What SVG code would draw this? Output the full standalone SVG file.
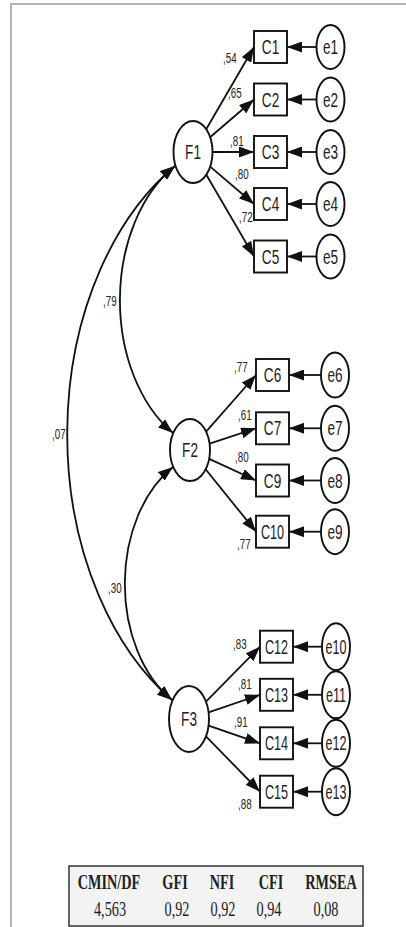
<svg xmlns="http://www.w3.org/2000/svg" width="406" height="927" viewBox="0 0 406 927">
<defs>
<marker id="ah" viewBox="0 0 15 11" refX="15" refY="5.5" markerWidth="15" markerHeight="11" markerUnits="userSpaceOnUse" orient="auto-start-reverse"><path d="M0,0 L15,5.5 L0,11 z" fill="#111"/></marker>
<style>
.n{fill:#fff;stroke:#111;stroke-width:1.9}
.t{font-family:"Liberation Sans",Arial,sans-serif;font-size:20px;fill:#222;text-anchor:middle}
.l{font-family:"Liberation Sans",Arial,sans-serif;font-size:14px;fill:#222}
.c{fill:none;stroke:#111;stroke-width:1.8;marker-end:url(#ah)}
.cv{fill:none;stroke:#111;stroke-width:1.8;marker-start:url(#ah);marker-end:url(#ah)}
.h{font-family:"Liberation Serif","Times New Roman",serif;font-size:21px;font-weight:bold;fill:#222;text-anchor:middle}
.v{font-family:"Liberation Serif","Times New Roman",serif;font-size:21px;fill:#222;text-anchor:middle}
</style>
</defs>
<rect width="406" height="927" fill="#fff"/>
<path d="M11,927 V4 H406" fill="none" stroke="#b4b4b4" stroke-width="2"/>

<g id="connectors">
<line class="c" x1="206.2" y1="129.2" x2="254" y2="47"/>
<line class="c" x1="210.1" y1="137.2" x2="254" y2="99.5"/>
<line class="c" x1="212.5" y1="152" x2="254" y2="152"/>
<line class="c" x1="210.2" y1="166.6" x2="254" y2="204"/>
<line class="c" x1="206.3" y1="174.7" x2="254" y2="256.5"/>
<line class="c" x1="316.5" y1="47" x2="287" y2="47"/>
<line class="c" x1="316.5" y1="99.5" x2="287" y2="99.5"/>
<line class="c" x1="316.5" y1="152" x2="287" y2="152"/>
<line class="c" x1="316.5" y1="204" x2="287" y2="204"/>
<line class="c" x1="316.5" y1="256.5" x2="287" y2="256.5"/>

<line class="c" x1="206.1" y1="431.7" x2="256" y2="375"/>
<line class="c" x1="209.6" y1="443.6" x2="256" y2="428.3"/>
<line class="c" x1="209.2" y1="458.9" x2="256" y2="480.5"/>
<line class="c" x1="205.6" y1="469.3" x2="256" y2="531.7"/>
<line class="c" x1="321" y1="375" x2="289" y2="375"/>
<line class="c" x1="321" y1="428.3" x2="289" y2="428.3"/>
<line class="c" x1="321" y1="480.5" x2="289" y2="480.5"/>
<line class="c" x1="321" y1="531.7" x2="289" y2="531.7"/>

<line class="c" x1="206" y1="701.7" x2="260" y2="646.7"/>
<line class="c" x1="208.6" y1="712.3" x2="260" y2="694.8"/>
<line class="c" x1="208.6" y1="725.7" x2="260" y2="743.3"/>
<line class="c" x1="206" y1="736.4" x2="260" y2="791.7"/>
<line class="c" x1="322" y1="646.7" x2="293" y2="646.7"/>
<line class="c" x1="322" y1="694.8" x2="293" y2="694.8"/>
<line class="c" x1="322" y1="743.3" x2="293" y2="743.3"/>
<line class="c" x1="322" y1="791.7" x2="293" y2="791.7"/>

<path class="cv" d="M175,166 A217.5,310.7 0 0 0 172,700"/>
<path class="cv" d="M175,166 A107.8,154 0 0 0 173,433"/>
<path class="cv" d="M173,467 A93.6,133.7 0 0 0 172,700"/>

<text class="l" transform="translate(223,63) scale(0.7,1)">,54</text>
<text class="l" transform="translate(228,98) scale(0.7,1)">,65</text>
<text class="l" transform="translate(230,146) scale(0.7,1)">,81</text>
<text class="l" transform="translate(235,179) scale(0.7,1)">,80</text>
<text class="l" transform="translate(239,222) scale(0.7,1)">,72</text>
<text class="l" transform="translate(234,372) scale(0.7,1)">,77</text>
<text class="l" transform="translate(238,420) scale(0.7,1)">,61</text>
<text class="l" transform="translate(235,462) scale(0.7,1)">,80</text>
<text class="l" transform="translate(237,549) scale(0.7,1)">,77</text>
<text class="l" transform="translate(233,649) scale(0.7,1)">,83</text>
<text class="l" transform="translate(238,689) scale(0.7,1)">,81</text>
<text class="l" transform="translate(234,727) scale(0.7,1)">,91</text>
<text class="l" transform="translate(238,809) scale(0.7,1)">,88</text>
<text class="l" transform="translate(103,306) scale(0.7,1)">,79</text>
<text class="l" transform="translate(52,439) scale(0.7,1)">,07</text>
<text class="l" transform="translate(108,593) scale(0.7,1)">,30</text>
</g>

<g id="F1"><ellipse class="n" cx="193" cy="152" rx="19.5" ry="31"/><text class="t" transform="translate(193,159) scale(0.68,1)">F1</text></g>
<g id="F2"><ellipse class="n" cx="190" cy="450" rx="20" ry="31"/><text class="t" transform="translate(190,457) scale(0.68,1)">F2</text></g>
<g id="F3"><ellipse class="n" cx="189" cy="719" rx="20" ry="33"/><text class="t" transform="translate(189,726) scale(0.68,1)">F3</text></g>

<g id="C1"><rect class="n" x="254" y="31" width="33" height="32"/><text class="t" transform="translate(270.5,54) scale(0.68,1)">C1</text></g>
<g id="C2"><rect class="n" x="254" y="83.5" width="33" height="32"/><text class="t" transform="translate(270.5,106.5) scale(0.68,1)">C2</text></g>
<g id="C3"><rect class="n" x="254" y="136" width="33" height="32"/><text class="t" transform="translate(270.5,159) scale(0.68,1)">C3</text></g>
<g id="C4"><rect class="n" x="254" y="188" width="33" height="32"/><text class="t" transform="translate(270.5,211) scale(0.68,1)">C4</text></g>
<g id="C5"><rect class="n" x="254" y="240.5" width="33" height="32"/><text class="t" transform="translate(270.5,263.5) scale(0.68,1)">C5</text></g>

<g id="C6"><rect class="n" x="256" y="359" width="33" height="32"/><text class="t" transform="translate(272.5,382) scale(0.68,1)">C6</text></g>
<g id="C7"><rect class="n" x="256" y="412.3" width="33" height="32"/><text class="t" transform="translate(272.5,435.3) scale(0.68,1)">C7</text></g>
<g id="C9"><rect class="n" x="256" y="464.5" width="33" height="32"/><text class="t" transform="translate(272.5,487.5) scale(0.68,1)">C9</text></g>
<g id="C10"><rect class="n" x="256" y="515.7" width="33" height="32"/><text class="t" transform="translate(272.5,538.7) scale(0.63,1)">C10</text></g>

<g id="C12"><rect class="n" x="260" y="630.7" width="33" height="32"/><text class="t" transform="translate(276.5,653.7) scale(0.63,1)">C12</text></g>
<g id="C13"><rect class="n" x="260" y="678.8" width="33" height="32"/><text class="t" transform="translate(276.5,701.8) scale(0.63,1)">C13</text></g>
<g id="C14"><rect class="n" x="260" y="727.3" width="33" height="32"/><text class="t" transform="translate(276.5,750.3) scale(0.63,1)">C14</text></g>
<g id="C15"><rect class="n" x="260" y="775.7" width="33" height="32"/><text class="t" transform="translate(276.5,798.7) scale(0.63,1)">C15</text></g>

<g id="e1"><ellipse class="n" cx="330.5" cy="47" rx="14" ry="22"/><text class="t" transform="translate(330.5,54) scale(0.68,1)">e1</text></g>
<g id="e2"><ellipse class="n" cx="330.5" cy="99.5" rx="14" ry="22"/><text class="t" transform="translate(330.5,106.5) scale(0.68,1)">e2</text></g>
<g id="e3"><ellipse class="n" cx="330.5" cy="152" rx="14" ry="22"/><text class="t" transform="translate(330.5,159) scale(0.68,1)">e3</text></g>
<g id="e4"><ellipse class="n" cx="330.5" cy="204" rx="14" ry="22"/><text class="t" transform="translate(330.5,211) scale(0.68,1)">e4</text></g>
<g id="e5"><ellipse class="n" cx="330.5" cy="256.5" rx="14" ry="22"/><text class="t" transform="translate(330.5,263.5) scale(0.68,1)">e5</text></g>

<g id="e6"><ellipse class="n" cx="335" cy="375" rx="14" ry="22.5"/><text class="t" transform="translate(335,382) scale(0.68,1)">e6</text></g>
<g id="e7"><ellipse class="n" cx="335" cy="428.3" rx="14" ry="22.5"/><text class="t" transform="translate(335,435.3) scale(0.68,1)">e7</text></g>
<g id="e8"><ellipse class="n" cx="335" cy="480.5" rx="14" ry="22.5"/><text class="t" transform="translate(335,487.5) scale(0.68,1)">e8</text></g>
<g id="e9"><ellipse class="n" cx="335" cy="531.7" rx="14" ry="22.5"/><text class="t" transform="translate(335,538.7) scale(0.68,1)">e9</text></g>

<g id="e10"><ellipse class="n" cx="336" cy="646.7" rx="14" ry="23.5"/><text class="t" transform="translate(336,653.7) scale(0.63,1)">e10</text></g>
<g id="e11"><ellipse class="n" cx="336" cy="694.8" rx="14" ry="23.5"/><text class="t" transform="translate(336,701.8) scale(0.63,1)">e11</text></g>
<g id="e12"><ellipse class="n" cx="336" cy="743.3" rx="14" ry="23.5"/><text class="t" transform="translate(336,750.3) scale(0.63,1)">e12</text></g>
<g id="e13"><ellipse class="n" cx="336" cy="791.7" rx="14" ry="23.5"/><text class="t" transform="translate(336,798.7) scale(0.63,1)">e13</text></g>

<g id="fit-table">
<rect x="69" y="866" width="294" height="60" fill="#f3f3f3" stroke="#333" stroke-width="1.5"/>
<text class="h" transform="translate(109,889) scale(0.68,1)">CMIN/DF</text>
<text class="h" transform="translate(175,889) scale(0.68,1)">GFI</text>
<text class="h" transform="translate(222,889) scale(0.68,1)">NFI</text>
<text class="h" transform="translate(271,889) scale(0.68,1)">CFI</text>
<text class="h" transform="translate(331,889) scale(0.68,1)">RMSEA</text>
<text class="v" transform="translate(110,916) scale(0.68,1)">4,563</text>
<text class="v" transform="translate(177,916) scale(0.68,1)">0,92</text>
<text class="v" transform="translate(223,916) scale(0.68,1)">0,92</text>
<text class="v" transform="translate(269,916) scale(0.68,1)">0,94</text>
<text class="v" transform="translate(326,916) scale(0.68,1)">0,08</text>
</g>
</svg>
